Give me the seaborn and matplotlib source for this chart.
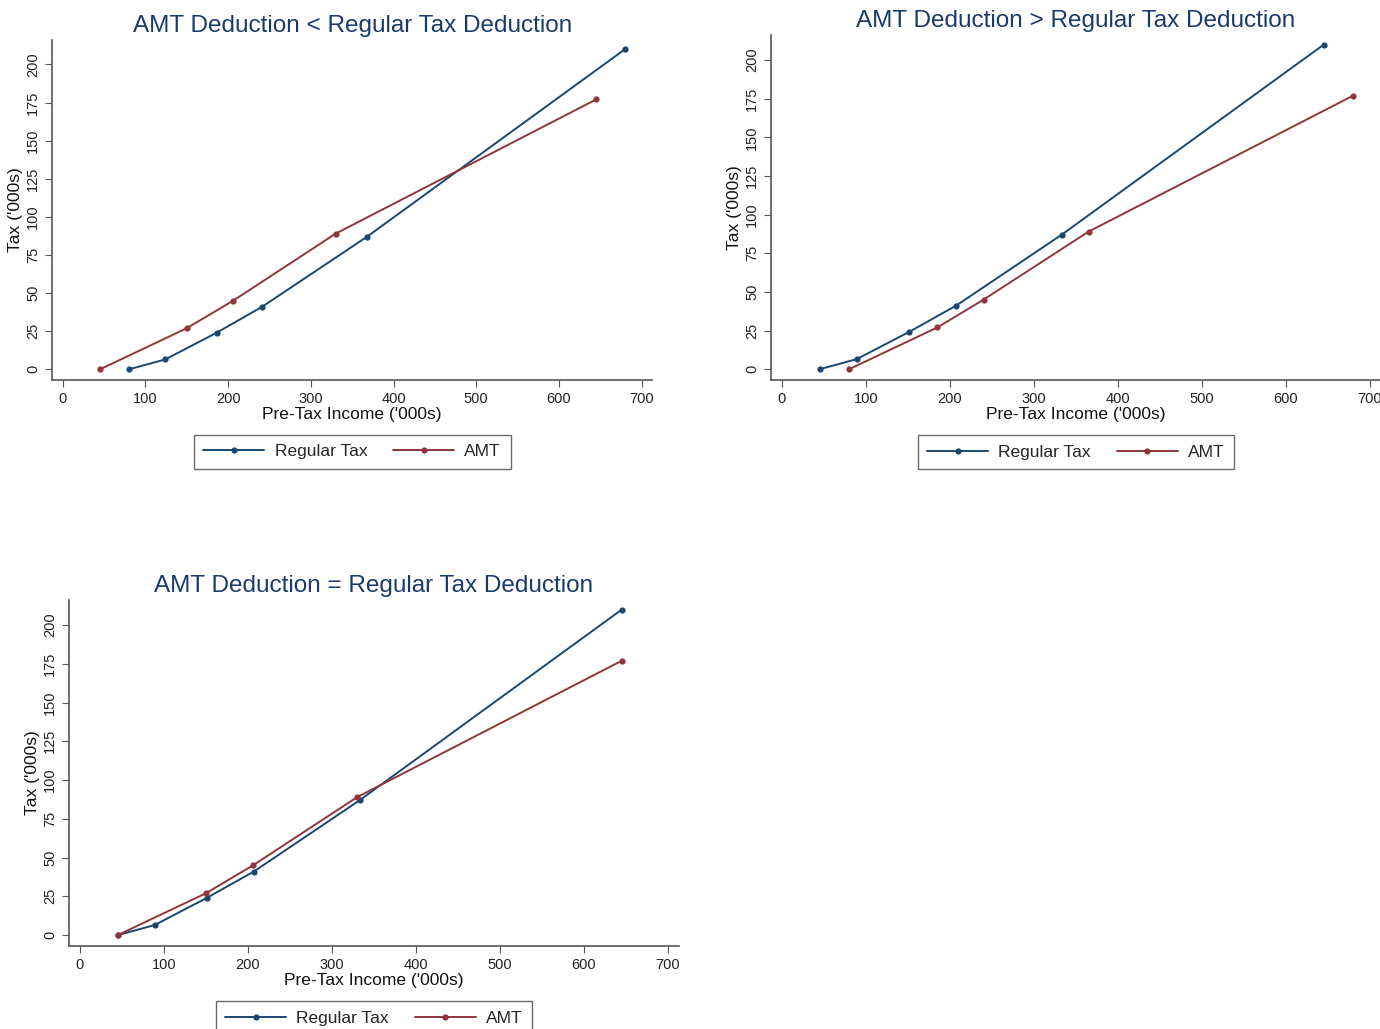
import matplotlib
matplotlib.use('Agg')
from matplotlib import pyplot as plt
import seaborn as sns
import pandas as pd

sns.set_style('ticks')
plt.rcParams['font.family'] = ['Liberation Sans', 'DejaVu Sans']

# values (thousands)
reg_x_lt = [80, 124, 186, 241, 368, 680]
amt_x_lt = [45, 150, 206, 330, 645]
reg_x_gt = [45, 89, 151, 207, 333, 645]
amt_x_gt = [80, 185, 240, 365, 680]
reg_x_eq = [45, 89, 151, 207, 333, 645]
amt_x_eq = [45, 150, 206, 330, 645]
reg_tax = [0, 6.5, 24, 41, 87, 210]
amt_tax = [0, 27, 45, 89, 177]

titles = ['AMT Deduction < Regular Tax Deduction',
          'AMT Deduction > Regular Tax Deduction',
          'AMT Deduction = Regular Tax Deduction']
panels = [(reg_x_lt, amt_x_lt), (reg_x_gt, amt_x_gt), (reg_x_eq, amt_x_eq)]
pal = {'Regular Tax': '#1a476f', 'AMT': '#90353b'}

fig = plt.figure(figsize=(13.8, 10.29), dpi=100)
rects = [[0.0377, 0.6307, 0.435, 0.3304],
         [0.5587, 0.6307, 0.442, 0.335],
         [0.05, 0.0807, 0.442, 0.336]]

for rect, title, (rx, ax_) in zip(rects, titles, panels):
    ax = fig.add_axes(rect)
    df = pd.concat([
        pd.DataFrame({'income': rx, 'tax': reg_tax, 'series': 'Regular Tax'}),
        pd.DataFrame({'income': ax_, 'tax': amt_tax, 'series': 'AMT'}),
    ])
    sns.lineplot(data=df, x='income', y='tax', hue='series', palette=pal,
                 marker='o', markersize=4.5, markeredgewidth=0, linewidth=1.4,
                 sort=False, estimator=None, ax=ax)
    ax.set_xlim(-13, 713)
    ax.set_ylim(-7, 216)
    ax.set_xticks(range(0, 701, 100))
    ax.set_yticks(range(0, 201, 25))
    ax.tick_params(axis='both', labelsize=10.5, color='#555555', length=5,
                   labelcolor='#222222')
    plt.setp(ax.get_yticklabels(), rotation=90, va='center')
    for s in ['top', 'right']:
        ax.spines[s].set_visible(False)
    for s in ['left', 'bottom']:
        ax.spines[s].set_color('#555555')
        ax.spines[s].set_linewidth(1.2)
    ax.set_xlabel("Pre-Tax Income ('000s)", fontsize=12.5, labelpad=1, color='#111111')
    ax.set_ylabel("Tax ('000s)", fontsize=12.5, labelpad=2, color='#111111')
    ax.set_title(title, fontsize=17.5, color='#1a3a6b', pad=6)
    sns.move_legend(ax, 'upper center', bbox_to_anchor=(0.5, -0.135), ncol=2,
                    title=None, frameon=True, fancybox=False, fontsize=12.5,
                    handlelength=3.5, columnspacing=1.5, borderpad=0.55,
                    handletextpad=0.6, edgecolor='#444444')
    ax.get_legend().get_frame().set_linewidth(1.0)

fig.savefig('out.png', dpi=100, facecolor='white')
